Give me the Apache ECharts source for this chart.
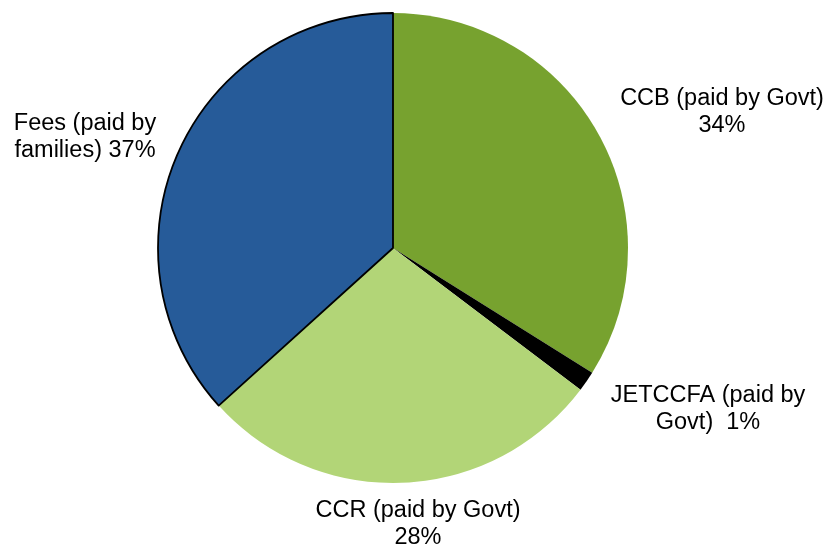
<!DOCTYPE html>
<html>
<head>
<meta charset="utf-8">
<script src="https://cdn.jsdelivr.net/npm/echarts@6/dist/echarts.min.js"></script>
<style>
html,body{margin:0;padding:0;background:#fff;}
#chart{width:828px;height:545px;}
</style>
</head>
<body>
<div id="chart"></div>
<script>
// Data
var categories = ['CCB', 'JETCCFA', 'CCR', 'Fees'];
var labelNames = ['CCB (paid by Govt)\n', 'JETCCFA (paid by\nGovt)  ', 'CCR (paid by Govt)\n', 'Fees (paid by\nfamilies) '];
var shares = [33.9, 1.4, 28.0, 36.7];

// Styles / layout
var colors = ['#77a22f', '#000000', '#b2d577', '#265b99'];
var borderWidths = [0, 0, 0, 1.8];
var labelPos = [[722, 112], [708, 409], [418, 524], [85, 137]];

var chart = echarts.init(document.getElementById('chart'));
var data = categories.map(function (c, i) {
  return {
    name: c,
    value: shares[i],
    itemStyle: { color: colors[i], borderColor: '#000', borderWidth: borderWidths[i] }
  };
});

chart.setOption({
  animation: false,
  series: [{
    type: 'pie',
    center: [393, 248],
    radius: 235,
    startAngle: 90,
    clockwise: true,
    data: data,
    label: {
      show: true,
      position: 'outside',
      overflow: 'none',
      fontFamily: 'Liberation Sans, Arial, sans-serif',
      fontSize: 23.5,
      lineHeight: 27,
      color: '#000',
      align: 'center',
      formatter: function (p) {
        return labelNames[p.dataIndex] + Math.round(p.value) + '%';
      }
    },
    labelLine: { show: false },
    labelLayout: function (p) {
      var pos = labelPos[p.dataIndex];
      return { x: pos[0], y: pos[1], align: 'center', verticalAlign: 'middle' };
    },
    emphasis: { disabled: true }
  }]
});
</script>
</body>
</html>
